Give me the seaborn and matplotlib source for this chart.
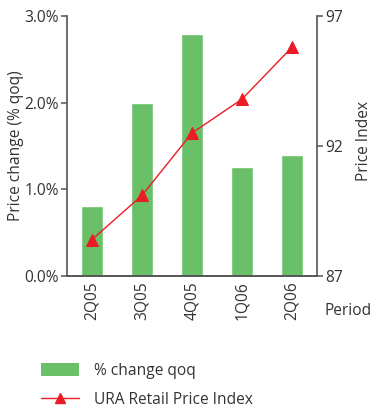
import matplotlib
matplotlib.use("Agg")
import matplotlib.pyplot as plt
from matplotlib.lines import Line2D
from matplotlib.patches import Patch
import seaborn as sns
import pandas as pd

periods = ["2Q05", "3Q05", "4Q05", "1Q06", "2Q06"]
pct_change_qoq = [0.81, 2.0, 2.79, 1.26, 1.40]
retail_price_index = [88.4, 90.1, 92.5, 93.8, 95.8]

left_ticks = [0.0, 1.0, 2.0, 3.0]
left_tick_labels = ["0.0%", "1.0%", "2.0%", "3.0%"]
right_ticks = [87, 92, 97]

green = "#6abf69"
red = "#ec1c24"
ink = "#333333"
axis_grey = "#555555"
fs = 11.2

sns.set_theme(style="white")
plt.rcParams["font.family"] = ["Open Sans", "DejaVu Sans"]
plt.rcParams["text.color"] = ink
plt.rcParams["axes.labelcolor"] = ink
plt.rcParams["xtick.color"] = ink
plt.rcParams["ytick.color"] = ink

df = pd.DataFrame({"Period": periods, "Change": pct_change_qoq, "Index": retail_price_index})

fig = plt.figure(figsize=(3.71, 4.07), dpi=100)
ax = fig.add_axes([0.1806, 0.3219, 0.6738, 0.6388])

sns.barplot(data=df, x="Period", y="Change", color=green, saturation=1,
            width=0.44, ax=ax, zorder=2)
ax.set_xlim(-0.5, 4.5)
ax.set_ylim(0, 3.0)
ax.set_yticks(left_ticks)
ax.set_yticklabels(left_tick_labels, fontsize=fs)
ax.set_ylabel("Price change (% qoq)", fontsize=fs)
ax.yaxis.set_label_coords(-0.172, 0.5)
ax.set_xlabel("")

# category boundary ticks pointing up into the plot
ax.set_xticks([0.5, 1.5, 2.5, 3.5])
ax.set_xticklabels([])
ax.tick_params(axis="x", which="major", direction="in", length=8, width=1.1, color=ink)
ax.set_xticks(range(len(periods)), minor=True)
ax.set_xticklabels(periods, minor=True, rotation=90, fontsize=fs)
ax.tick_params(axis="x", which="minor", length=0, pad=4)
ax.tick_params(axis="y", direction="out", length=4, width=1.1, color=axis_grey, pad=2, labelsize=fs)

ax2 = ax.twinx()
sns.lineplot(data=df, x="Period", y="Index", color=red, marker="^", markersize=8,
             markeredgecolor=red, linewidth=1.0, ax=ax2, sort=False)
ax2.set_ylim(87, 97)
ax2.set_yticks(right_ticks)
ax2.set_yticklabels([str(t) for t in right_ticks], fontsize=fs)
ax2.set_ylabel("Price Index", fontsize=fs)
ax2.yaxis.set_label_coords(1.158, 0.52)
ax2.set_xlabel("")
ax2.tick_params(axis="y", direction="out", length=4, width=1.1, color=axis_grey, pad=2, labelsize=fs)
ax2.set_xlim(-0.5, 4.5)

for a in (ax, ax2):
    a.spines["top"].set_visible(False)
    for side in ("left", "right", "bottom"):
        a.spines[side].set_color(axis_grey)
        a.spines[side].set_linewidth(1.2)
ax.spines["right"].set_visible(False)
ax2.spines["left"].set_visible(False)

fig.text(325 / 371, 1 - 311 / 407, "Period", fontsize=fs, ha="left", va="center", color=ink)

handles = [
    Patch(facecolor=green, edgecolor="none", label="% change qoq"),
    Line2D([0], [0], color=red, marker="^", markersize=7, linewidth=1.0, label="URA Retail Price Index"),
]
fig.legend(handles=handles, loc="upper left", bbox_to_anchor=(35 / 371, 1 - 357 / 407),
           frameon=False, fontsize=fs, handlelength=2.4, handleheight=0.9,
           labelspacing=0.8, handletextpad=1.0, borderaxespad=0)

fig.savefig("out.png", dpi=100)
